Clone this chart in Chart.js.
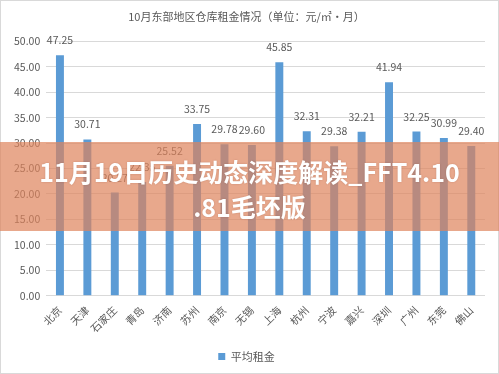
<!DOCTYPE html>
<html><head><meta charset="utf-8">
<script src="https://cdn.jsdelivr.net/npm/chart.js@4.4.1/dist/chart.umd.min.js"></script>
<style>
html,body{margin:0;padding:0;background:#fff;}
#wrap{position:relative;width:499px;height:374px;overflow:hidden;}
#frame{position:absolute;left:0;top:0;width:499px;height:374px;box-sizing:border-box;border:1px solid #d9d9d9;pointer-events:none;}
#overlay{position:absolute;left:0;top:142px;width:499px;height:89px;background:rgba(222,131,91,0.70);color:#fff;font-family:"Noto Sans CJK SC",sans-serif;font-weight:bold;font-size:25px;line-height:35px;text-align:center;box-sizing:border-box;padding-top:12px;text-shadow:0 0 2px rgba(120,60,40,0.3);}
</style>
</head><body>
<div id="wrap">
<canvas id="c" width="499" height="374"></canvas>
<div id="frame"></div>
<div id="overlay">11月19日历史动态深度解读_FFT4.10<br>.81毛坯版</div>
</div>
<script>
const chartTitle = '10月东部地区仓库租金情况（单位：元/㎡·月）';
const seriesName = '平均租金';
const categories = ['北京','天津','石家庄','青岛','济南','苏州','南京','无锡','上海','杭州','宁波','嘉兴','深圳','广州','东莞','佛山'];
const rents = [47.25,30.71,20.27,22.35,25.52,33.75,29.78,29.60,45.85,32.31,29.38,32.21,41.94,32.25,30.99,29.40];
const yMin = 0, yMax = 50, yStep = 5;

const FONT = '"Noto Sans CJK SC", "Noto Sans", sans-serif';
const GREY = '#595959';

const valueLabels = {
  id: 'valueLabels',
  afterDatasetsDraw(chart) {
    const ctx = chart.ctx;
    const meta = chart.getDatasetMeta(0);
    const data = chart.data.datasets[0].data;
    ctx.save();
    ctx.font = '10.5px ' + FONT;
    ctx.fillStyle = GREY;
    ctx.textAlign = 'center';
    ctx.textBaseline = 'middle';
    meta.data.forEach((bar, i) => {
      ctx.fillText(Number(data[i]).toFixed(2), bar.x, bar.y - 15);
    });
    ctx.restore();
  }
};

new Chart(document.getElementById('c'), {
  type: 'bar',
  data: {
    labels: categories,
    datasets: [{
      label: seriesName,
      data: rents,
      backgroundColor: '#5B9BD5',
      borderWidth: 0,
      categoryPercentage: 1.0,
      barPercentage: 0.29
    }]
  },
  options: {
    responsive: false,
    animation: false,
    layout: { padding: { left: 8, right: 14, top: 0, bottom: 2 } },
    plugins: {
      title: {
        display: true,
        text: chartTitle,
        color: GREY,
        font: { family: FONT, size: 11, weight: 'normal' },
        padding: { top: 10, bottom: 18 }
      },
      legend: {
        display: true,
        position: 'bottom',
        labels: {
          color: GREY,
          font: { family: FONT, size: 11 },
          boxWidth: 7,
          boxHeight: 7,
          padding: 8
        }
      },
      tooltip: { enabled: false }
    },
    scales: {
      x: {
        grid: { display: false, drawTicks: false },
        border: { display: false },
        ticks: {
          color: GREY,
          font: { family: FONT, size: 10.5 },
          minRotation: 45,
          maxRotation: 45,
          autoSkip: false,
          padding: 8
        }
      },
      y: {
        min: yMin,
        max: yMax,
        grid: { color: '#d9d9d9', drawTicks: false },
        border: { display: false },
        ticks: {
          stepSize: yStep,
          color: GREY,
          font: { family: FONT, size: 10.5 },
          padding: 6,
          callback: v => Number(v).toFixed(2)
        }
      }
    }
  },
  plugins: [valueLabels]
});
</script>
</body></html>
